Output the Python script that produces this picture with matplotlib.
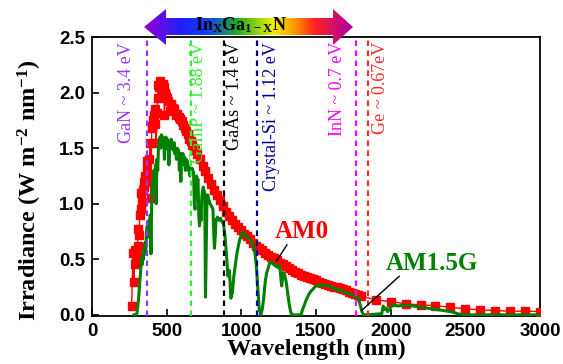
import matplotlib
matplotlib.use("Agg")
import matplotlib.pyplot as plt
import numpy as np
from matplotlib.colors import LinearSegmentedColormap
from matplotlib.patches import Polygon

plt.rcParams["mathtext.fontset"] = "custom"
plt.rcParams["mathtext.rm"] = "Liberation Serif:bold"
plt.rcParams["mathtext.bf"] = "Liberation Serif:bold"
plt.rcParams["mathtext.it"] = "Liberation Serif:bold"

SERIF = "Liberation Serif"
SANS = "Liberation Sans"

# AM0 (extraterrestrial) spectrum
AM0_WL = [265, 275, 280, 285, 290, 295, 300, 305, 310, 315, 320, 325, 330, 335,
          340, 345, 350, 355, 360, 365, 370, 375, 380, 385, 390, 395, 400, 405,
          410, 415, 420, 425, 430, 435, 440, 445, 450, 455, 460, 465, 470, 475,
          480, 485, 490, 495, 500, 510, 520, 530, 540, 550, 560, 570, 580, 590,
          600, 610, 620, 630, 640, 650, 660, 670, 680, 690, 700, 720, 740, 760,
          780, 800, 820, 840, 860, 880, 900, 920, 940, 960, 980, 1000, 1020,
          1040, 1060, 1080, 1100, 1120, 1140, 1160, 1180, 1200, 1220, 1240,
          1260, 1280, 1300, 1320, 1340, 1360, 1380, 1400, 1420, 1440, 1460,
          1480, 1500, 1520, 1540, 1560, 1580, 1600, 1620, 1640, 1660, 1680,
          1700, 1720, 1740, 1760, 1780, 1800, 1900, 2000, 2100, 2200, 2300,
          2400, 2500, 2600, 2700, 2800, 2900, 3000]
AM0_IRR = [0.08, 0.56, 0.30, 0.46, 0.58, 0.52, 0.55, 0.62, 0.77, 0.72, 0.90, 0.95,
           1.10, 1.02, 1.12, 1.20, 1.15, 1.25, 1.22, 1.30, 1.38, 1.25, 1.40, 1.20,
           1.55, 1.05, 1.70, 1.68, 1.75, 1.80, 1.85, 1.72, 1.55, 1.82, 1.95, 2.07,
           2.05, 2.10, 2.06, 2.04, 2.03, 2.08, 2.05, 1.80, 2.00, 1.97, 1.95, 1.92,
           1.83, 1.90, 1.86, 1.85, 1.80, 1.81, 1.78, 1.76, 1.74, 1.71, 1.68, 1.65,
           1.63, 1.58, 1.56, 1.53, 1.50, 1.48, 1.45, 1.40, 1.34, 1.29, 1.23, 1.18,
           1.12, 1.08, 1.03, 0.98, 0.93, 0.89, 0.85, 0.82, 0.79, 0.76, 0.73, 0.71,
           0.68, 0.65, 0.62, 0.60, 0.58, 0.56, 0.54, 0.52, 0.51, 0.49, 0.47, 0.46,
           0.44, 0.42, 0.40, 0.39, 0.38, 0.36, 0.35, 0.34, 0.33, 0.32, 0.31, 0.30,
           0.29, 0.28, 0.27, 0.26, 0.255, 0.25, 0.24, 0.23, 0.22, 0.21, 0.20, 0.19,
           0.18, 0.17, 0.135, 0.12, 0.10, 0.09, 0.083, 0.069, 0.054, 0.045, 0.039,
           0.033, 0.033, 0.030]

# AM1.5G (terrestrial) spectrum
AM15_WL = [280, 290, 300, 305, 310, 315, 320, 325, 330, 335, 340, 345, 350, 355,
           360, 365, 370, 375, 380, 385, 390, 395, 400, 405, 410, 415, 420, 425,
           430, 435, 440, 445, 450, 455, 460, 465, 470, 475, 480, 485, 490, 495,
           500, 505, 510, 515, 520, 525, 530, 535, 540, 545, 550, 555, 560, 565,
           570, 575, 580, 585, 590, 595, 600, 605, 610, 615, 620, 625, 630, 635,
           640, 645, 650, 655, 660, 665, 670, 675, 680, 685, 690, 695, 700, 705,
           710, 715, 720, 725, 730, 735, 740, 745, 750, 755, 760, 765, 770, 775,
           780, 790, 800, 810, 815, 820, 825, 830, 840, 850, 860, 870, 880, 890,
           900, 910, 920, 930, 940, 950, 960, 970, 980, 990, 1000, 1010, 1020,
           1030, 1040, 1050, 1060, 1070, 1080, 1090, 1100, 1110, 1120, 1130,
           1140, 1150, 1160, 1170, 1180, 1190, 1200, 1210, 1220, 1230, 1240,
           1250, 1260, 1270, 1280, 1290, 1300, 1310, 1320, 1330, 1340, 1350,
           1400, 1410, 1420, 1430, 1440, 1450, 1460, 1470, 1480, 1490, 1500,
           1520, 1540, 1560, 1580, 1600, 1620, 1640, 1660, 1680, 1700, 1720,
           1740, 1760, 1780, 1790, 1800, 1810, 1820, 1940, 1950, 1960, 1970,
           1980, 2000, 2020, 2050, 2100, 2150, 2200, 2250, 2300, 2350, 2400,
           2450, 2500, 3000]
AM15_IRR = [0.0, 0.0, 0.01, 0.05, 0.12, 0.20, 0.30, 0.38, 0.50, 0.45, 0.55, 0.50,
            0.60, 0.65, 0.55, 0.75, 0.80, 0.70, 0.85, 0.70, 0.90, 0.55, 1.05, 1.20,
            1.10, 1.30, 1.20, 1.35, 1.00, 1.40, 1.30, 1.50, 1.55, 1.60, 1.50, 1.62,
            1.55, 1.60, 1.58, 1.40, 1.55, 1.60, 1.50, 1.58, 1.55, 1.35, 1.50, 1.55,
            1.58, 1.50, 1.52, 1.48, 1.55, 1.45, 1.50, 1.40, 1.50, 1.45, 1.48, 1.30,
            1.45, 1.20, 1.45, 1.40, 1.45, 1.35, 1.42, 1.30, 1.40, 1.35, 1.38, 1.30,
            1.33, 1.25, 1.30, 1.28, 1.32, 1.30, 1.28, 1.00, 0.95, 1.20, 1.25, 1.20,
            1.22, 0.90, 0.80, 0.95, 0.85, 1.05, 1.12, 1.15, 1.12, 1.10, 0.16, 0.60,
            1.05, 1.08, 1.05, 1.00, 0.98, 0.95, 0.75, 0.60, 0.70, 0.85, 0.88, 0.85,
            0.87, 0.84, 0.82, 0.72, 0.55, 0.35, 0.40, 0.15, 0.20, 0.35, 0.45, 0.55,
            0.62, 0.68, 0.72, 0.74, 0.72, 0.72, 0.70, 0.69, 0.67, 0.66, 0.62, 0.57,
            0.45, 0.25, 0.05, 0.0, 0.05, 0.15, 0.30, 0.38, 0.42, 0.47, 0.48, 0.46,
            0.45, 0.44, 0.43, 0.45, 0.40, 0.26, 0.38, 0.36, 0.30, 0.20, 0.10, 0.03,
            0.0, 0.0, 0.0, 0.05, 0.08, 0.12, 0.15, 0.18, 0.20, 0.22, 0.23, 0.25,
            0.26, 0.27, 0.26, 0.27, 0.26, 0.25, 0.24, 0.22, 0.23, 0.21, 0.20, 0.19,
            0.18, 0.17, 0.15, 0.12, 0.07, 0.02, 0.0, 0.01, 0.08, 0.05, 0.06, 0.03,
            0.07, 0.09, 0.08, 0.09, 0.08, 0.07, 0.06, 0.05, 0.04, 0.03, 0.01, 0.0,
            0.0]

# band-gap markers: wavelength (nm), label, colour, label x position (nm)
GAP_WL = [365, 660, 886, 1107, 1771, 1851]
GAP_LABELS = ["GaN ~ 3.4 eV", "GaInP ~ 1.88 eV", "GaAs ~ 1.4 eV",
              "Crystal-Si ~ 1.12 eV", "InN ~ 0.7 eV", "Ge ~ 0.67eV"]
GAP_COLORS = ["#9933ff", "#33ee33", "#000000", "#000099", "#ff00ff", "#ff2a2a"]
GAP_TEXT_X = [234, 712, 955, 1200, 1645, 1930]

RAINBOW = ["#9400d3", "#2020ff", "#1040ff", "#20b020", "#f0f000",
           "#ff9900", "#ff2020", "#aa00aa"]
RAINBOW_POS = [0.0, 0.18, 0.3, 0.45, 0.62, 0.72, 0.82, 1.0]

W, H = 563, 364


def draw_arrow(fig):
    """Rainbow double arrow above the plot with In_xGa_1-xN label (pixel coords)."""
    x0, x1, y0, y1 = 144, 353, 9, 45
    ax = fig.add_axes([x0 / W, 1 - y1 / H, (x1 - x0) / W, (y1 - y0) / H])
    ax.set_xlim(x0, x1)
    ax.set_ylim(y1, y0)
    ax.axis("off")
    pts = [(144, 27), (166, 9), (166, 18), (333, 18), (333, 9), (353, 27),
           (333, 45), (333, 35), (166, 35), (166, 45)]
    poly = Polygon(pts, closed=True, facecolor="none", edgecolor="none")
    ax.add_patch(poly)
    cmap = LinearSegmentedColormap.from_list("rb", list(zip(RAINBOW_POS, RAINBOW)))
    grad = np.linspace(0, 1, 256).reshape(1, -1)
    im = ax.imshow(grad, cmap=cmap, extent=(x0, x1, y1, y0), aspect="auto")
    im.set_clip_path(poly)
    ax.text(241, 25.5, r"In$_{\mathbf{X}}$Ga$_{\mathbf{1-X}}$N", ha="center",
            va="center", fontsize=13, fontweight="bold", family=SERIF)


def main():
    fig = plt.figure(figsize=(W / 100, H / 100), dpi=100)
    ax = fig.add_axes([92 / W, 1 - 316 / H, 448 / W, 279 / H])

    ax.plot(AM0_WL, AM0_IRR, color="red", lw=1.0, marker="s", ms=5.5,
            mec="red", mfc="red", zorder=3)
    ax.plot(AM15_WL, AM15_IRR, color="#008000", lw=2.2, zorder=4)

    for wl, lab, c, tx in zip(GAP_WL, GAP_LABELS, GAP_COLORS, GAP_TEXT_X):
        ax.axvline(wl, color=c, lw=1.6, ls=(0, (2.5, 2)), zorder=5)
        ax.text(tx, 2.455, lab, rotation=90, ha="center", va="top", color=c,
                fontsize=13, family=SERIF, zorder=6)

    ax.text(1406, 0.75, "AM0", color="red", fontsize=18, fontweight="bold",
            family=SERIF, ha="center", va="center")
    ax.plot([1305, 1236], [0.63, 0.485], color="black", lw=1.0, zorder=6)
    ax.text(2276, 0.466, "AM1.5G", color="#008000", fontsize=18,
            fontweight="bold", family=SERIF, ha="center", va="center")
    ax.plot([2057, 1805], [0.347, 0.039], color="black", lw=1.0, zorder=6)

    ax.set_xlim(0, 3000)
    ax.set_ylim(-0.01, 2.5)
    ax.set_xticks(np.arange(0, 3001, 500))
    ax.set_yticks(np.arange(0, 2.51, 0.5))
    ax.set_yticklabels([f"{v:.1f}" for v in np.arange(0, 2.51, 0.5)])
    ax.tick_params(direction="in", length=5, width=1.2, labelsize=13.5)
    ax.tick_params(axis="x", pad=5)
    ax.tick_params(axis="y", pad=5)
    for lbl in ax.get_xticklabels() + ax.get_yticklabels():
        lbl.set_family(SANS)
        lbl.set_fontweight("bold")
    for s in ax.spines.values():
        s.set_linewidth(1.3)

    ax.set_xlabel("Wavelength (nm)", fontsize=17.5, fontweight="bold",
                  family=SERIF, labelpad=-1)
    ax.set_ylabel(r"Irradiance (W m$^{\mathbf{-2}}$ nm$^{\mathbf{-1}}$)",
                  fontsize=17.5, fontweight="bold", family=SERIF)
    ax.yaxis.set_label_coords(-0.108, 0.45)

    draw_arrow(fig)
    fig.savefig("out.png", dpi=100)
    plt.close(fig)


if __name__ == "__main__":
    main()
